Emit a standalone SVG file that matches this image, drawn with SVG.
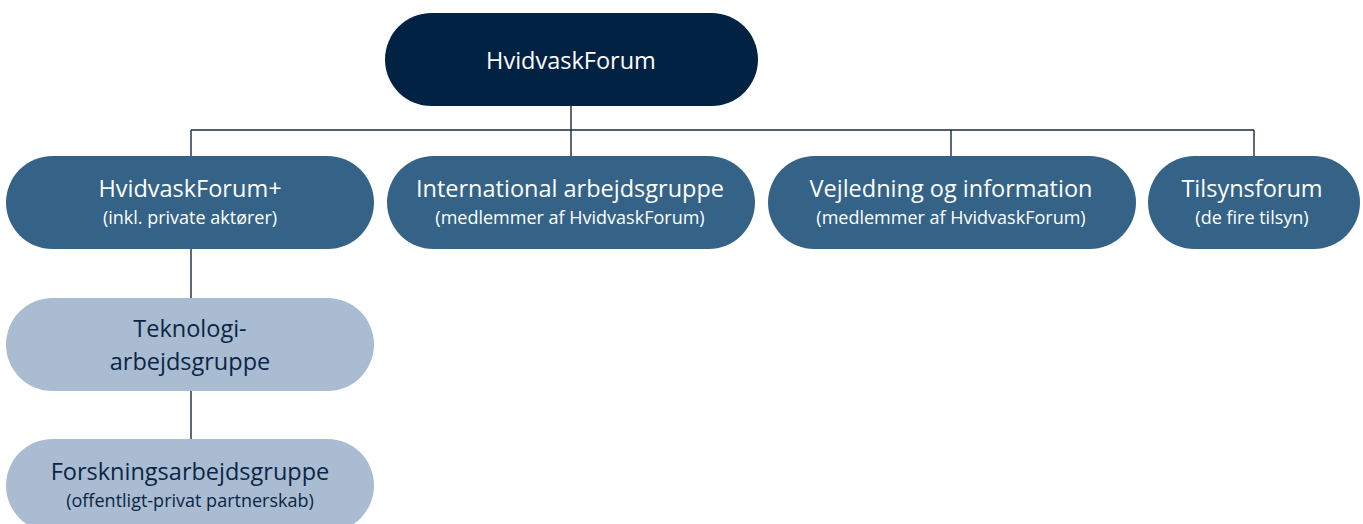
<svg xmlns="http://www.w3.org/2000/svg" width="1363" height="524" viewBox="0 0 1363 524">
<style>
.top{fill:#022243}
.mid{fill:#346387}
.light{fill:#a9bcd2}
text{font-family:"Open Sans","Noto Sans",sans-serif;text-anchor:middle}
.t1{font-size:23.5px;fill:#ffffff}
.t2{font-size:18px;fill:#ffffff}
.d1{font-size:23.5px;fill:#0b2645}
.d2{font-size:18px;fill:#0b2645}
.conn{stroke:#1b2b40;stroke-width:1.4;fill:none}
</style>
<rect width="1363" height="524" fill="#ffffff"/>
<g id="connectors">
<path class="conn" d="M571 106V156M191 130H1254M191 130V156M951 130V156M1254 130V156M191 249V299M191 391V440"/>
</g>
<g id="hvidvaskforum">
<rect class="top" x="385" y="13" width="373" height="93" rx="46.5"/>
<text class="t1" x="571" y="69">HvidvaskForum</text>
</g>
<g id="hvidvaskforum-plus">
<rect class="mid" x="6" y="156" width="368" height="93" rx="46.5"/>
<text class="t1" x="190" y="197">HvidvaskForum+</text>
<text class="t2" x="190" y="224">(inkl. private aktører)</text>
</g>
<g id="international">
<rect class="mid" x="387" y="156" width="368" height="93" rx="46.5"/>
<text class="t1" x="570" y="197">International arbejdsgruppe</text>
<text class="t2" x="570" y="224">(medlemmer af HvidvaskForum)</text>
</g>
<g id="vejledning">
<rect class="mid" x="768" y="156" width="368" height="93" rx="46.5"/>
<text class="t1" x="951" y="197">Vejledning og information</text>
<text class="t2" x="951" y="224">(medlemmer af HvidvaskForum)</text>
</g>
<g id="tilsynsforum">
<rect class="mid" x="1148" y="156" width="212" height="93" rx="46.5"/>
<text class="t1" x="1252" y="197">Tilsynsforum</text>
<text class="t2" x="1252" y="224">(de fire tilsyn)</text>
</g>
<g id="teknologi">
<rect class="light" x="6" y="298" width="368" height="93" rx="46.5"/>
<text class="d1" x="190" y="337">Teknologi-</text>
<text class="d1" x="190" y="370">arbejdsgruppe</text>
</g>
<g id="forskning">
<rect class="light" x="6" y="439" width="368" height="93" rx="46.5"/>
<text class="d1" x="190" y="480">Forskningsarbejdsgruppe</text>
<text class="d2" x="190" y="507">(offentligt-privat partnerskab)</text>
</g>
</svg>
